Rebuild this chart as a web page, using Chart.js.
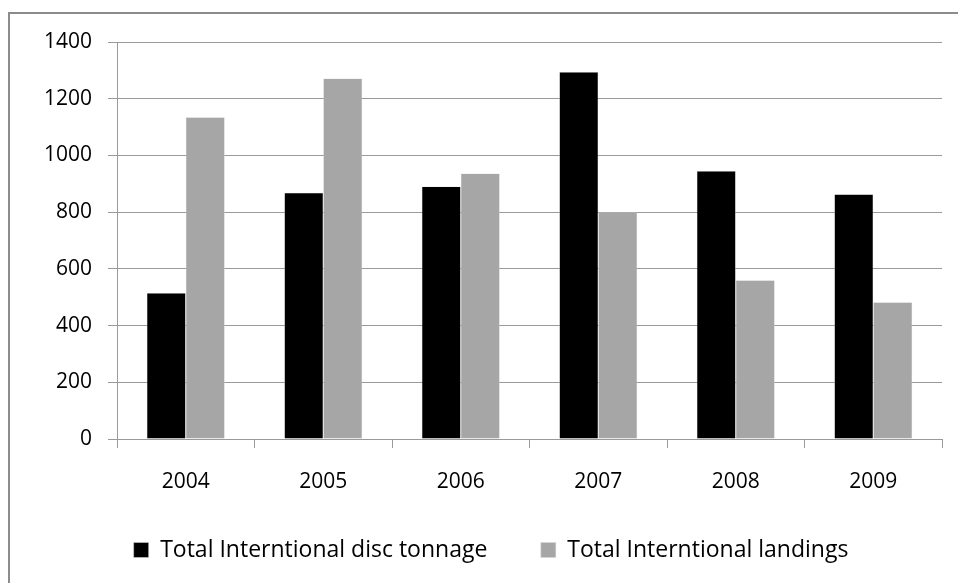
<!DOCTYPE html>
<html>
<head>
<meta charset="utf-8">
<script src="https://cdn.jsdelivr.net/npm/chart.js@4"></script>
<style>
  html, body { margin: 0; padding: 0; background: #fff; }
  #wrap { position: relative; width: 958px; height: 583px; }
</style>
</head>
<body>
<div id="wrap"><canvas id="chart" width="958" height="583"></canvas></div>
<script>
// chart data
const years = ['2004', '2005', '2006', '2007', '2008', '2009'];
const discTonnage = [515, 868, 890, 1294, 945, 863];
const landings = [1135, 1271, 936, 799, 560, 482];
const yTicks = [0, 200, 400, 600, 800, 1000, 1200, 1400];

const FONT = '"Open Sans", Lato, sans-serif';

// white background and the grey frame (only top and left edges show)
const frame = {
  id: 'frame',
  beforeDraw(chart) {
    const ctx = chart.ctx;
    ctx.save();
    ctx.fillStyle = '#fff';
    ctx.fillRect(0, 0, chart.width, chart.height);
    ctx.strokeStyle = '#8c8c8c';
    ctx.lineWidth = 2;
    ctx.beginPath();
    ctx.moveTo(958, 13);
    ctx.lineTo(9, 13);
    ctx.lineTo(9, 583);
    ctx.stroke();
    ctx.restore();
  }
};

new Chart(document.getElementById('chart'), {
  type: 'bar',
  data: {
    labels: years,
    datasets: [
      {
        label: 'Total Interntional disc tonnage',
        data: discTonnage,
        backgroundColor: '#000000',
        borderColor: '#d9d9d9',
        borderWidth: 0.5
      },
      {
        label: 'Total Interntional landings',
        data: landings,
        backgroundColor: '#a6a6a6',
        borderColor: '#d9d9d9',
        borderWidth: 0.5
      }
    ]
  },
  options: {
    responsive: false,
    animation: false,
    layout: { padding: { left: 40, top: 42, right: 16, bottom: 11.5 } },
    datasets: { bar: { categoryPercentage: 0.567, barPercentage: 1.0 } },
    plugins: {
      tooltip: { enabled: false },
      legend: {
        position: 'bottom',
        labels: {
          boxWidth: 15,
          boxHeight: 15,
          padding: 47.5,
          color: '#000',
          font: { family: FONT, size: 23 },
          // a trailing space widens the gap between the two entries a bit
          generateLabels(chart) {
            const items = Chart.defaults.plugins.legend.labels.generateLabels(chart);
            items.forEach((it, i) => { if (i < items.length - 1) it.text += ' '; });
            return items;
          }
        }
      }
    },
    scales: {
      x: {
        grid: { drawOnChartArea: false, drawTicks: true, tickLength: 9, color: '#9a9a9a' },
        border: { color: '#9a9a9a' },
        ticks: { color: '#000', padding: 21, font: { family: FONT, size: 21 } },
        afterFit(scale) { scale.height = 52; }
      },
      y: {
        min: 0,
        max: 1400,
        afterBuildTicks(scale) { scale.ticks = yTicks.map(v => ({ value: v })); },
        grid: { color: '#9a9a9a', tickLength: 9 },
        border: { color: '#9a9a9a' },
        ticks: {
          color: '#000',
          padding: 16,
          font: { family: FONT, size: 21 },
          callback: v => String(v)
        },
        afterFit(scale) { scale.width = 77; }
      }
    }
  },
  plugins: [frame]
});
</script>
</body>
</html>
